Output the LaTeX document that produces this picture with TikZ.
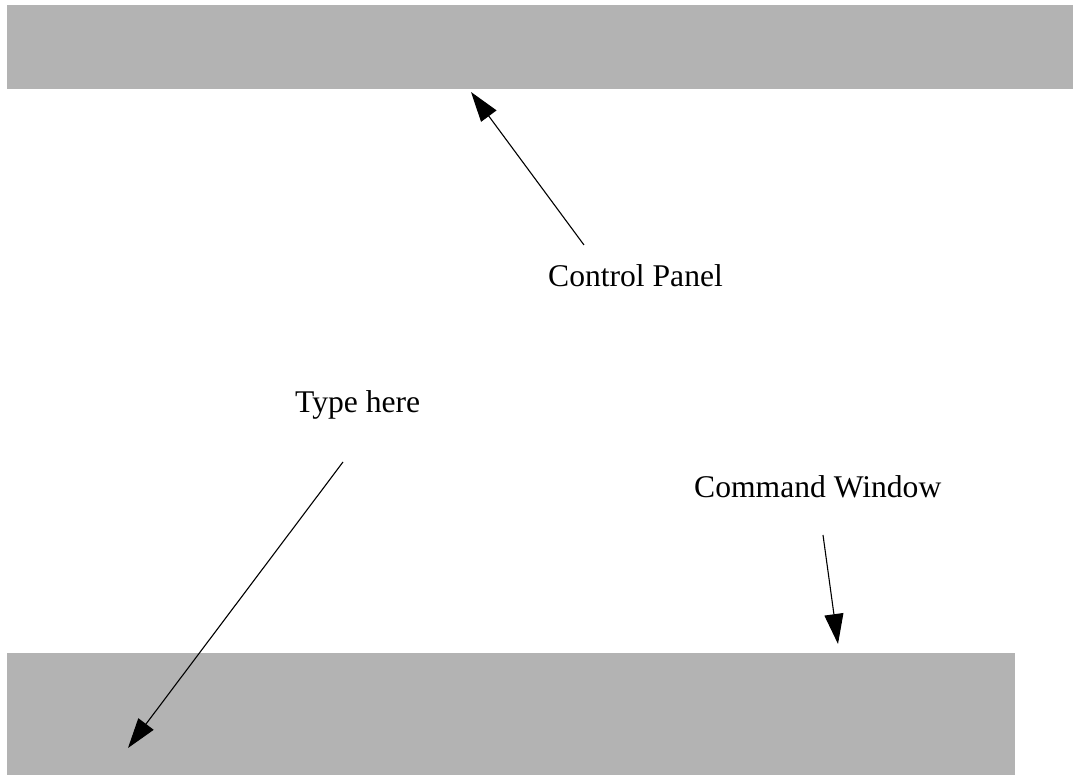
\documentclass[tikz,border=0pt]{standalone}
\usepackage{fontspec}
\setmainfont{Liberation Serif}
\usetikzlibrary{arrows.meta}
\definecolor{bargray}{RGB}{179,179,179}
\begin{document}
\begin{tikzpicture}[x=1pt,y=1pt,
  bar/.style={fill=bargray,draw=none},
  lbl/.style={inner sep=0pt,anchor=base west,font=\fontsize{31.6}{38}\selectfont},
  pointer/.style={line width=1.1pt,-{Triangle[length=30pt,width=19pt]}}]
\useasboundingbox (0,0) rectangle (1073,775);
% bars (y = 775 - pixel y)
\fill[bargray] (7,775-5) rectangle (1073,775-89);
\fill[bargray] (7,775-653) rectangle (1015,0);
% labels
\node[lbl] (cp) at (548,775-287) {Control Panel};
\node[lbl] (th) at (295,775-413) {Type here};
\node[lbl] (cw) at (694,775-498) {Command Window};
% arrow ends
\coordinate (cps) at (584,775-245);
\coordinate (cpt) at (471,775-92);
\coordinate (ths) at (343,775-462);
\coordinate (tht) at (128,775-748);
\coordinate (cws) at (823,775-535);
\coordinate (cwt) at (838,775-644);
\draw[pointer] (cps) -- (cpt);
\draw[pointer] (ths) -- (tht);
\draw[pointer] (cws) -- (cwt);
\end{tikzpicture}
\end{document}
